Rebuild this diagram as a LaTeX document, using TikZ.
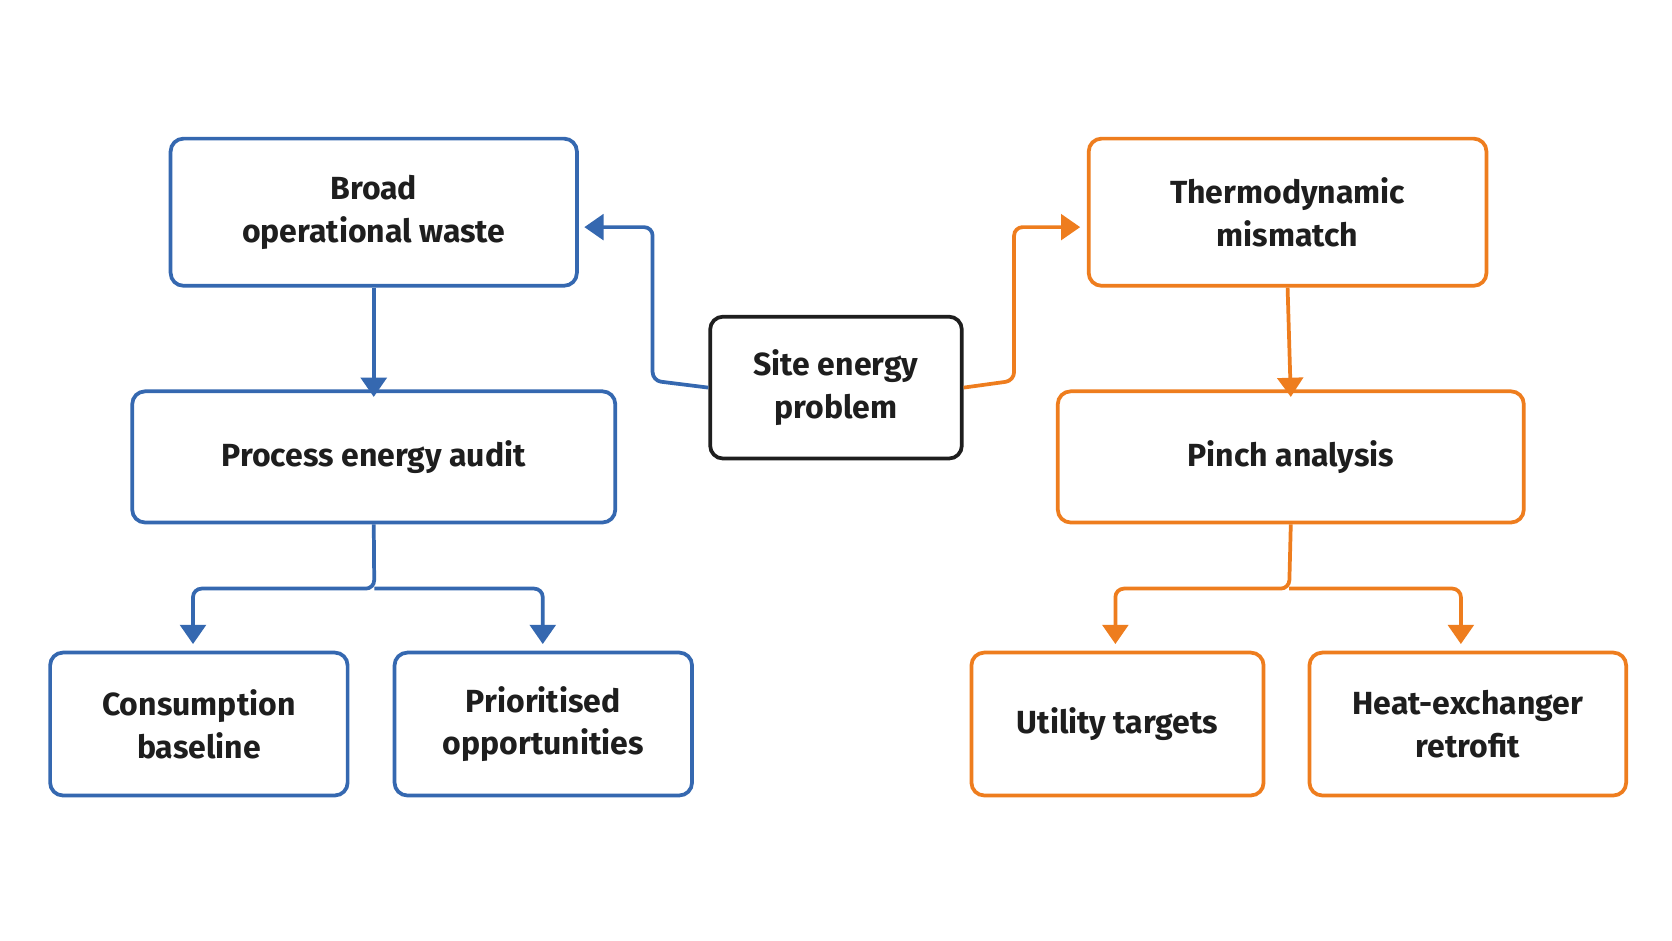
\documentclass[tikz,border=0pt]{standalone}
\usepackage{fontspec}
\setmainfont{Fira Sans}
\usetikzlibrary{arrows.meta}
\definecolor{cblue}{HTML}{3568B0}
\definecolor{corange}{HTML}{EE7D1E}
\definecolor{cdark}{HTML}{1E1E1E}
\tikzset{
  box/.style={draw, line width=3.5pt, rounded corners=12pt, inner sep=0pt, align=center, font=\fontsize{30}{40}\selectfont\bfseries, text=cdark},
  conn/.style={line width=3.5pt, rounded corners=8pt, -{Triangle[length=18pt,width=24pt]}},
}
\begin{document}
\begin{tikzpicture}[x=1pt,y=-1pt]
\useasboundingbox[fill=white] (0,0) rectangle (1568,882);
\newcommand{\bx}[7]{\node[box,draw=#6,minimum width=#4-#2,minimum height=#5-#3] (#1) at ({(#2+#4)/2},{(#3+#5)/2}) {#7};}
\bx{broad}{160}{130}{541}{268}{cblue}{Broad\\operational waste}
\bx{proc}{124}{367}{577}{490}{cblue}{Process energy audit}
\bx{cons}{47}{612}{326}{746}{cblue}{Consumption\\baseline}
\bx{prio}{370}{612}{649}{746}{cblue}{Prioritised\\opportunities}
\bx{site}{666}{297}{902}{430}{cdark}{Site energy\\problem}
\bx{thermo}{1021}{130}{1394}{268}{corange}{Thermodynamic\\mismatch}
\bx{pinch}{992}{367}{1429}{490}{corange}{Pinch analysis}
\bx{util}{911}{612}{1185}{746}{corange}{Utility targets}
\bx{heat}{1228}{612}{1525}{746}{corange}{Heat-exchanger\\retrofit}
\coordinate (bl) at (548,213);
\coordinate (tr) at (1013,213);
\draw[conn,cblue] (site.west) -- (612,357) -- (612,213) -- (bl);
\draw[conn,corange] (site.east) -- (951,357) -- (951,213) -- (tr);
\draw[conn,cblue] (broad.south) -- ([yshift=-7pt]proc.north);
\draw[conn,corange] (thermo.south) -- ([yshift=-7pt]pinch.north);
\draw[conn,cblue] (proc.south) -- (351,552) -- (181,552) -- (181,604);
\draw[conn,cblue] (351,552) -- (509,552) -- (509,604);
\draw[conn,corange] (pinch.south) -- (1209,552) -- (1046,552) -- (1046,604);
\draw[conn,corange] (1209,552) -- (1370,552) -- (1370,604);
\end{tikzpicture}
\end{document}
